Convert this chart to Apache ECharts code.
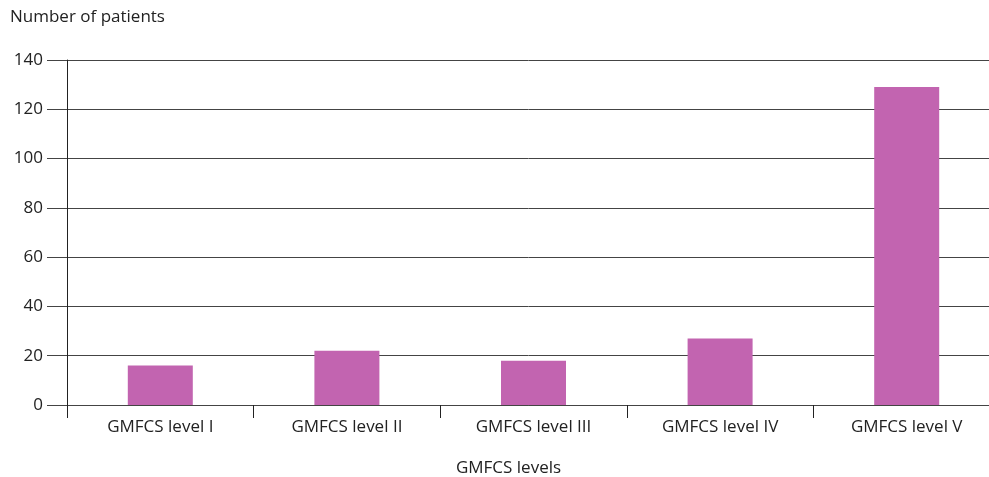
<!DOCTYPE html>
<html>
<head>
<meta charset="utf-8">
<script src="https://cdn.jsdelivr.net/npm/echarts@6/dist/echarts.min.js"></script>
<style>html,body{margin:0;padding:0;background:#fff}#c{width:989px;height:477px}</style>
</head>
<body>
<div id="c"></div>
<script>
const categories = ["GMFCS level I", "GMFCS level II", "GMFCS level III", "GMFCS level IV", "GMFCS level V"];
const patients = [16, 22, 18, 27, 129];
const yTicks = { min: 0, max: 140, interval: 20 };
const yTitle = "Number of patients";
const xTitle = "GMFCS levels";

const font = "'Open Sans', 'Noto Sans', sans-serif";
const chart = echarts.init(document.getElementById('c'), null, { renderer: 'canvas' });
chart.setOption({
  animation: false,
  backgroundColor: '#fff',
  title: {
    text: yTitle, left: 5, top: 4,
    textStyle: { fontFamily: font, fontSize: 17, fontWeight: 'normal', color: '#222' }
  },
  grid: { left: 67, top: 60, height: 345, width: 933, containLabel: false, outerBoundsMode: 'none' },
  xAxis: {
    type: 'category', data: categories, boundaryGap: true,
    name: xTitle, nameLocation: 'middle', nameGap: 55,
    nameTextStyle: { fontFamily: font, fontSize: 17, color: '#222', padding: [0, 50, 0, 0] },
    axisLine: { show: true, lineStyle: { color: '#444', width: 1 } },
    axisTick: { show: true, length: 13, lineStyle: { color: '#222', width: 1 } },
    axisLabel: { fontFamily: font, fontSize: 17, color: '#222', margin: 14 }
  },
  yAxis: {
    type: 'value', min: yTicks.min, max: yTicks.max, interval: yTicks.interval,
    axisLine: { show: true, lineStyle: { color: '#222', width: 1 } },
    axisTick: { show: true, length: 20, lineStyle: { color: '#444', width: 1 } },
    splitLine: { show: true, lineStyle: { color: '#444', width: 1 } },
    axisLabel: { fontFamily: font, fontSize: 17, color: '#222', margin: 24 }
  },
  series: [{
    type: 'bar', data: patients, barWidth: 65,
    itemStyle: { color: '#C264B0' }
  }]
});
</script>
</body>
</html>
